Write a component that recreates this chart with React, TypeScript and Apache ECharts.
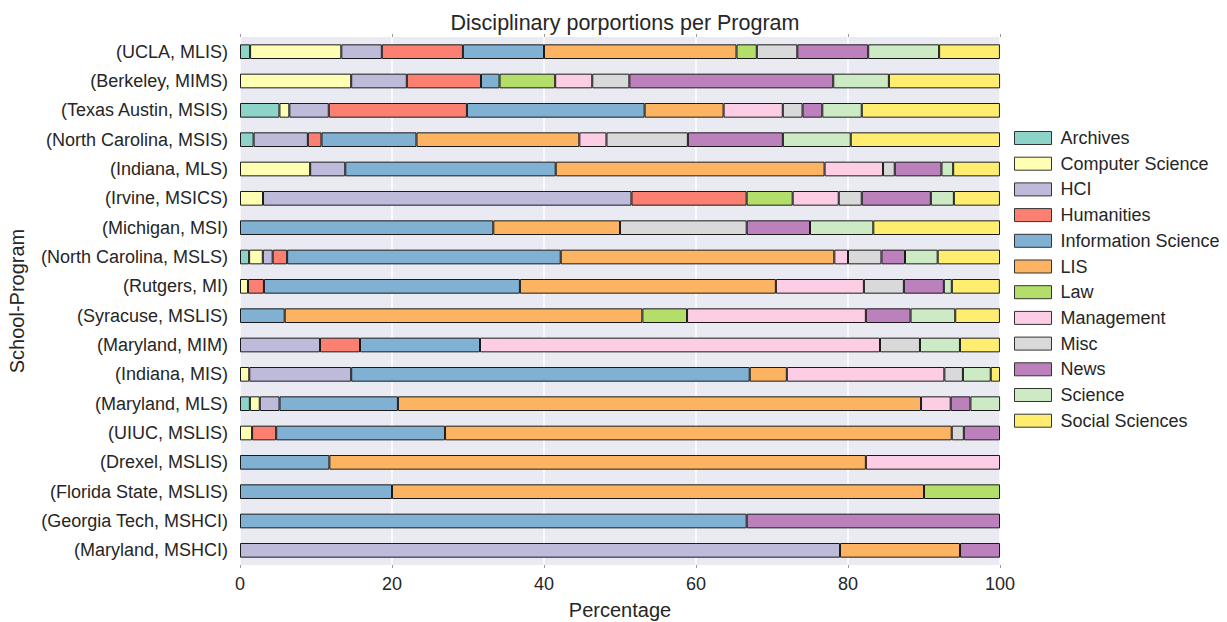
import React, { useEffect, useRef } from "react";
import * as echarts from "echarts";

const programs = [
  "(UCLA, MLIS)",
  "(Berkeley, MIMS)",
  "(Texas Austin, MSIS)",
  "(North Carolina, MSIS)",
  "(Indiana, MLS)",
  "(Irvine, MSICS)",
  "(Michigan, MSI)",
  "(North Carolina, MSLS)",
  "(Rutgers, MI)",
  "(Syracuse, MSLIS)",
  "(Maryland, MIM)",
  "(Indiana, MIS)",
  "(Maryland, MLS)",
  "(UIUC, MSLIS)",
  "(Drexel, MSLIS)",
  "(Florida State, MSLIS)",
  "(Georgia Tech, MSHCI)",
  "(Maryland, MSHCI)",
];

const disciplines = [
  "Archives",
  "Computer Science",
  "HCI",
  "Humanities",
  "Information Science",
  "LIS",
  "Law",
  "Management",
  "Misc",
  "News",
  "Science",
  "Social Sciences",
];

const colors = [
  "#8DD3C7",
  "#FFFFB3",
  "#BEBADA",
  "#FB8072",
  "#80B1D3",
  "#FDB462",
  "#B3DE69",
  "#FCCDE5",
  "#D9D9D9",
  "#BC80BD",
  "#CCEBC5",
  "#FFED6F",
];

const archives = [1.33, 0, 5.19, 1.79, 0, 0, 0, 1.2, 0, 0, 0, 0, 1.3, 0, 0, 0, 0, 0];
const computerScience = [12.0, 14.63, 1.3, 0, 9.23, 3.03, 0, 1.8, 1.05, 0, 0, 1.22, 1.3, 1.59, 0, 0, 0, 0];
const hci = [5.33, 7.32, 5.19, 7.14, 4.62, 48.48, 0, 1.3, 0, 0, 10.53, 13.41, 2.6, 0, 0, 0, 0, 78.95];
const humanities = [10.67, 9.76, 18.18, 1.79, 0, 15.15, 0, 1.9, 2.1, 0, 5.26, 0, 0, 3.17, 0, 0, 0, 0];
const informationScience = [10.67, 2.44, 23.38, 12.5, 27.69, 0, 33.33, 36.0, 33.68, 5.88, 15.79, 52.44, 15.58, 22.22, 11.76, 20, 66.67, 0];
const lis = [25.33, 0, 10.39, 21.43, 35.38, 0, 16.67, 36.0, 33.68, 47.06, 0, 4.88, 68.83, 66.67, 70.59, 70, 0, 15.79];
const law = [2.67, 7.32, 0, 0, 0, 6.06, 0, 0, 0, 5.88, 0, 0, 0, 0, 0, 10, 0, 0];
const management = [0, 4.88, 7.79, 3.57, 7.69, 6.06, 0, 1.8, 11.58, 23.53, 52.63, 20.73, 3.9, 0, 17.65, 0, 0, 0];
const misc = [5.33, 4.88, 2.6, 10.71, 1.54, 3.03, 16.67, 4.4, 5.26, 0, 5.26, 2.44, 0, 1.59, 0, 0, 0, 0];
const news = [9.33, 26.83, 2.6, 12.5, 6.15, 9.09, 8.33, 3.1, 5.26, 5.88, 0, 0, 2.6, 4.76, 0, 0, 33.33, 5.26];
const science = [9.33, 7.32, 5.19, 8.93, 1.54, 3.03, 8.33, 4.3, 1.05, 5.88, 5.26, 3.66, 3.9, 0, 0, 0, 0, 0];
const socialSciences = [8.0, 14.63, 18.18, 19.64, 6.15, 6.06, 16.67, 8.2, 6.32, 5.88, 5.26, 1.22, 0, 0, 0, 0, 0, 0];

const seriesValues = [
  archives,
  computerScience,
  hci,
  humanities,
  informationScience,
  lis,
  law,
  management,
  misc,
  news,
  science,
  socialSciences,
];

const xTicks = [0, 20, 40, 60, 80, 100];

const FONT = "'Liberation Sans', Arial, Helvetica, sans-serif";
const TEXT = "#262626";

export default function App() {
  const ref = useRef<HTMLDivElement>(null);
  useEffect(() => {
    document.body.style.margin = "0";
    if (!ref.current) return;
    const chart = echarts.init(ref.current, null, { renderer: "svg" });
    const series = disciplines.map((name, i) => ({
      name,
      type: "bar",
      stack: "total",
      barWidth: "50%",
      data: seriesValues[i].map((v) => (v === 0 ? "-" : v)),
      itemStyle: { color: colors[i], borderColor: "#1a1a1a", borderWidth: 1 },
      emphasis: { disabled: true },
    }));
    chart.setOption({
      animation: false,
      textStyle: { fontFamily: FONT },
      title: {
        text: "Disciplinary porportions per Program",
        left: 620,
        textAlign: "center",
        top: 7,
        textStyle: { fontFamily: FONT, fontSize: 21.5, fontWeight: "normal", color: TEXT },
      },
      legend: {
        orient: "vertical",
        left: 1009,
        top: 124,
        itemWidth: 37,
        itemHeight: 13,
        itemGap: 7.7,
        icon: "rect",
        selectedMode: false,
        itemStyle: { borderColor: "#333", borderWidth: 1 },
        textStyle: { fontFamily: FONT, fontSize: 18, color: TEXT, padding: [0, 0, 0, 4] },
        data: disciplines,
      },
      grid: {
        left: 240,
        right: 227,
        top: 37,
        bottom: 57,
        show: true,
        backgroundColor: "#EAEAF2",
        borderWidth: 0,
        containLabel: false,
        outerBoundsMode: "none",
      },
      xAxis: [
        {
          type: "value",
          min: 0,
          max: 100,
          interval: 20,
          name: "Percentage",
          nameLocation: "middle",
          nameGap: 35,
          nameTextStyle: { fontFamily: FONT, fontSize: 20, color: TEXT },
          axisLine: { show: false },
          axisTick: { show: true, length: 3, lineStyle: { color: "#999" } },
          axisLabel: {
            fontFamily: FONT,
            fontSize: 18,
            color: TEXT,
            margin: 10,
            formatter: (v: number) => (xTicks.includes(v) ? String(v) : ""),
          },
          splitLine: { show: true, lineStyle: { color: "#ffffff", width: 1.5 } },
        },
        {
          type: "value",
          position: "top",
          min: 0,
          max: 100,
          interval: 20,
          axisLine: { show: false },
          axisTick: { show: true, length: 3, lineStyle: { color: "#999" } },
          axisLabel: { show: false },
          splitLine: { show: false },
        },
      ],
      yAxis: [
        {
          type: "category",
          inverse: true,
          data: programs,
          name: "School-Program",
          nameLocation: "middle",
          nameGap: 213,
          nameRotate: 90,
          nameTextStyle: { fontFamily: FONT, fontSize: 20, color: TEXT },
          axisLine: { show: false },
          axisTick: { show: false },
          axisLabel: { fontFamily: FONT, fontSize: 18, color: TEXT, margin: 12 },
          splitLine: { show: false },
        },
        {
          type: "category",
          inverse: true,
          position: "right",
          data: programs,
          axisLine: { show: false },
          axisTick: { show: true, alignWithLabel: true, length: 3, lineStyle: { color: "#999" } },
          axisLabel: { show: false },
          splitLine: { show: false },
        },
      ],
      series,
    });
    return () => chart.dispose();
  }, []);
  return <div ref={ref} style={{ width: 1227, height: 622 }} />;
}
